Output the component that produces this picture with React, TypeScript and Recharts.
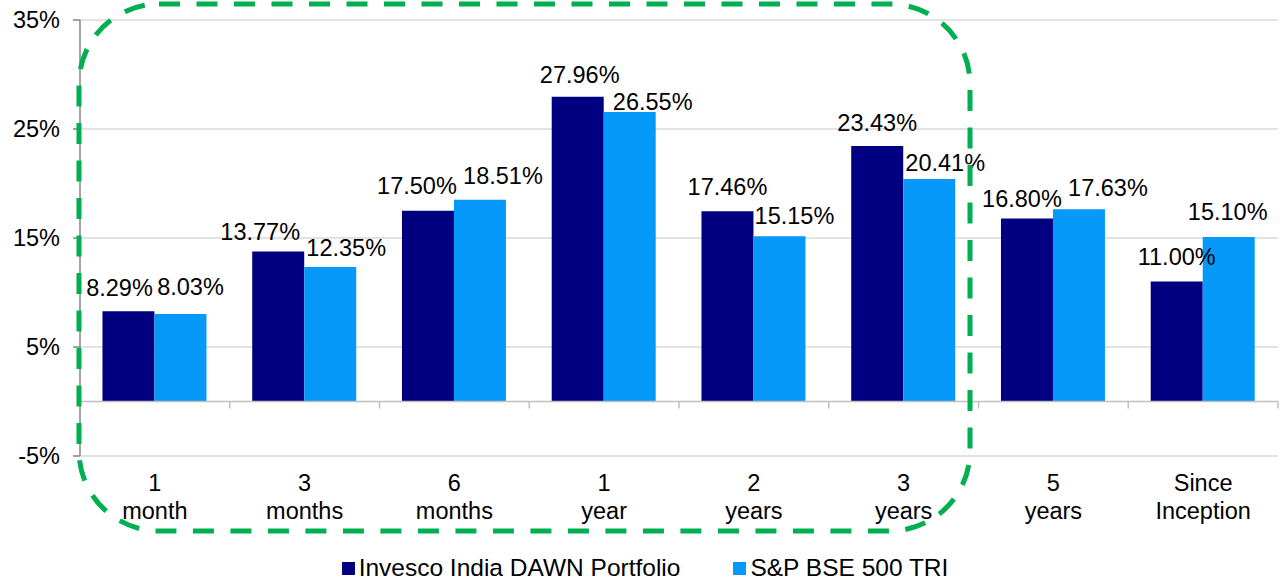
import React from 'react';
import { BarChart, Bar, XAxis, YAxis, CartesianGrid, ReferenceLine, Legend, LabelList } from 'recharts';

const categories = ['1\nmonth', '3\nmonths', '6\nmonths', '1\nyear', '2\nyears', '3\nyears', '5\nyears', 'Since\nInception'];
const dawnReturns = [8.29, 13.77, 17.5, 27.96, 17.46, 23.43, 16.8, 11.0];
const bseReturns = [8.03, 12.35, 18.51, 26.55, 15.15, 20.41, 17.63, 15.1];
const yTicks = [-5, 5, 15, 25, 35];

// label nudges (dx, dy from bar top) - the source labels were hand-placed
const dawnLabelShift = [[-9, -24], [-18, -20], [-11, -25], [2, -22], [0, -25], [0, -24], [-5, -20], [0, -25]];
const bseLabelShift = [[10, -27], [16, -19], [23, -24], [23, -11], [15, -21], [16, -16], [29, -22], [-1, -25]];

const data = categories.map((name, i) => ({ name, dawn: dawnReturns[i], bse: bseReturns[i] }));

const DARK = '#000080';
const LIGHT = '#0699F9';
const FONT = "'Liberation Sans', Arial, sans-serif";

const makeLabel = (shift: number[][]) => (props: any) => {
  const { x, y, width, value, index } = props;
  const [dx, dy] = shift[index] || [0, -24];
  return (
    <text x={x + width / 2 + dx} y={y + dy} dy="0.36em" textAnchor="middle" fill="#000" fontSize={23.5}>
      {`${Number(value).toFixed(2)}%`}
    </text>
  );
};

const CategoryTick = ({ x, y, payload }: any) => {
  const lines = String(payload.value).split('\n');
  return (
    <text x={x} y={y + 35} textAnchor="middle" fill="#000" fontSize={23.5}>
      {lines.map((l, i) => (
        <tspan key={i} x={x} dy={i === 0 ? 0 : 27.5}>{l}</tspan>
      ))}
    </text>
  );
};

// zero line with little marks at the category boundaries
const ZeroAxis = (props: any) => {
  const { x1, x2, y1 } = props;
  const step = (x2 - x1) / categories.length;
  return (
    <g>
      <line x1={x1} x2={x2} y1={y1} y2={y1} stroke="#BFBFBF" strokeWidth={1.5} />
      {categories.map((_, i) => (
        <line key={i} x1={x1 + step * (i + 1)} x2={x1 + step * (i + 1)} y1={y1} y2={y1 + 7} stroke="#BFBFBF" strokeWidth={1.5} />
      ))}
    </g>
  );
};

const LegendBox = () => (
  <div style={{ display: 'flex', justifyContent: 'center', alignItems: 'center', height: 22, paddingLeft: 6, fontSize: 24.5, color: '#000', fontFamily: FONT }}>
    <span style={{ width: 13, height: 13, background: DARK, marginRight: 4, display: 'inline-block' }} />
    <span style={{ marginRight: 53 }}>Invesco India DAWN Portfolio</span>
    <span style={{ width: 13, height: 13, background: LIGHT, marginRight: 4, display: 'inline-block' }} />
    <span>S&amp;P BSE 500 TRI</span>
  </div>
);

export default function App() {
  return (
    <div style={{ position: 'absolute', left: 0, top: 0, width: 1284, height: 579, background: '#fff', fontFamily: FONT }}>
      <BarChart
        width={1284}
        height={579}
        data={data}
        margin={{ top: 20, right: 6, left: 0, bottom: 0 }}
        barCategoryGap="15%"
        barGap={0}
      >
        <CartesianGrid vertical={false} stroke="#D9D9D9" strokeWidth={1.5} />
        <XAxis
          dataKey="name"
          height={101}
          axisLine={false}
          tickLine={false}
          tickSize={0}
          tickMargin={0}
          interval={0}
          tick={<CategoryTick />}
        />
        <YAxis
          width={80}
          domain={[-5, 35]}
          ticks={yTicks}
          interval={0}
          tickFormatter={(v) => `${v}%`}
          tick={{ fill: '#000', fontSize: 23.5 }}
          tickSize={7}
          tickMargin={13}
          axisLine={{ stroke: '#868686', strokeWidth: 1.5 }}
          tickLine={{ stroke: '#868686', strokeWidth: 1.5 }}
        />
        <Bar dataKey="dawn" name="Invesco India DAWN Portfolio" fill={DARK} isAnimationActive={false}>
          <LabelList dataKey="dawn" content={makeLabel(dawnLabelShift)} />
        </Bar>
        <Bar dataKey="bse" name="S&P BSE 500 TRI" fill={LIGHT} isAnimationActive={false}>
          <LabelList dataKey="bse" content={makeLabel(bseLabelShift)} />
        </Bar>
        <ReferenceLine y={0} shape={<ZeroAxis />} />
        <Legend verticalAlign="bottom" wrapperStyle={{ left: 0, width: 1284, bottom: 0 }} content={<LegendBox />} />
      </BarChart>

      {/* green dashed highlight box */}
      <svg width={1284} height={579} style={{ position: 'absolute', left: 0, top: 0, pointerEvents: 'none' }}>
        <rect x={79} y={4} width={891} height={527} rx={80} ry={80} fill="none" stroke="#00B050" strokeWidth={5} strokeDasharray="21 16.5" />
      </svg>
    </div>
  );
}
